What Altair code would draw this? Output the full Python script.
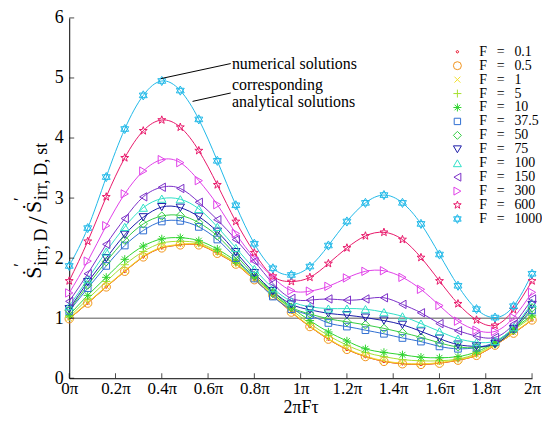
import math
import altair as alt
import pandas as pd

# ---------------- data ----------------
x_pi = [0.00, 0.08, 0.16, 0.24, 0.32, 0.40, 0.48, 0.56, 0.64, 0.72, 0.80, 0.88, 0.96,
        1.04, 1.12, 1.20, 1.28, 1.36, 1.44, 1.52, 1.60, 1.68, 1.76, 1.84, 1.92, 2.00]

F_labels = ["0.1", "0.5", "1", "5", "10", "37.5", "50", "75", "100", "150", "300", "600", "1000"]

F_0_1 = [0.99, 1.25, 1.52, 1.78, 2.02, 2.17, 2.22, 2.22, 2.08, 1.90, 1.64, 1.38, 1.10,
         0.86, 0.65, 0.48, 0.36, 0.28, 0.24, 0.23, 0.25, 0.30, 0.38, 0.55, 0.75, 0.97]
F_0_5 = [0.99, 1.25, 1.52, 1.78, 2.02, 2.17, 2.22, 2.22, 2.08, 1.90, 1.64, 1.38, 1.10,
         0.86, 0.65, 0.48, 0.36, 0.28, 0.24, 0.23, 0.25, 0.30, 0.38, 0.55, 0.75, 0.97]
F_1 = [1.00, 1.26, 1.53, 1.79, 2.03, 2.18, 2.23, 2.23, 2.09, 1.91, 1.65, 1.39, 1.11,
       0.87, 0.66, 0.49, 0.37, 0.29, 0.25, 0.24, 0.26, 0.31, 0.39, 0.56, 0.76, 0.98]
F_5 = [1.02, 1.32, 1.61, 1.89, 2.11, 2.25, 2.28, 2.25, 2.11, 1.92, 1.67, 1.41, 1.14,
       0.91, 0.71, 0.55, 0.43, 0.36, 0.31, 0.29, 0.29, 0.32, 0.41, 0.58, 0.80, 1.02]
F_10 = [1.05, 1.38, 1.68, 1.98, 2.20, 2.32, 2.34, 2.29, 2.15, 1.95, 1.70, 1.44, 1.18,
        0.96, 0.77, 0.62, 0.49, 0.43, 0.39, 0.35, 0.34, 0.36, 0.44, 0.60, 0.82, 1.05]
F_37_5 = [1.12, 1.50, 1.87, 2.21, 2.46, 2.61, 2.62, 2.52, 2.31, 2.00, 1.66, 1.36, 1.15,
          1.05, 0.92, 0.86, 0.80, 0.74, 0.67, 0.61, 0.53, 0.49, 0.51, 0.60, 0.82, 1.13]
F_50 = [1.13, 1.55, 1.94, 2.30, 2.57, 2.70, 2.71, 2.59, 2.37, 2.05, 1.71, 1.41, 1.18,
        1.07, 0.99, 0.94, 0.89, 0.83, 0.76, 0.68, 0.59, 0.52, 0.51, 0.57, 0.80, 1.17]
F_75 = [1.15, 1.60, 2.00, 2.39, 2.68, 2.85, 2.84, 2.69, 2.44, 2.10, 1.75, 1.45, 1.23,
        1.14, 1.08, 1.05, 1.01, 0.96, 0.89, 0.78, 0.66, 0.56, 0.53, 0.57, 0.82, 1.22]
F_100 = [1.20, 1.65, 2.11, 2.52, 2.84, 2.99, 2.98, 2.82, 2.52, 2.17, 1.82, 1.50, 1.28,
         1.19, 1.16, 1.16, 1.15, 1.10, 1.03, 0.91, 0.78, 0.66, 0.60, 0.62, 0.85, 1.25]
F_150 = [1.28, 1.74, 2.23, 2.66, 3.02, 3.18, 3.16, 2.93, 2.64, 2.31, 1.95, 1.58, 1.33,
         1.30, 1.32, 1.30, 1.32, 1.34, 1.23, 1.09, 0.91, 0.79, 0.70, 0.68, 0.90, 1.32]
F_300 = [1.42, 1.95, 2.54, 3.07, 3.45, 3.64, 3.59, 3.29, 2.89, 2.41, 2.00, 1.68, 1.46,
         1.45, 1.53, 1.67, 1.78, 1.79, 1.68, 1.48, 1.21, 0.95, 0.80, 0.78, 1.01, 1.43]
F_600 = [1.62, 2.28, 3.02, 3.67, 4.12, 4.30, 4.18, 3.79, 3.22, 2.61, 2.09, 1.70, 1.61,
         1.68, 1.91, 2.17, 2.37, 2.43, 2.31, 2.01, 1.62, 1.24, 0.97, 0.88, 1.14, 1.62]
F_1000 = [1.87, 2.50, 3.35, 4.15, 4.71, 4.95, 4.79, 4.31, 3.62, 2.88, 2.24, 1.83, 1.72,
          1.86, 2.21, 2.61, 2.92, 3.05, 2.92, 2.57, 2.06, 1.54, 1.15, 1.01, 1.20, 1.74]

series_values = [F_0_1, F_0_5, F_1, F_5, F_10, F_37_5, F_50, F_75, F_100, F_150, F_300, F_600, F_1000]

x_ticks = [0, 0.2, 0.4, 0.6, 0.8, 1.0, 1.2, 1.4, 1.6, 1.8, 2.0]
y_ticks = [0, 1, 2, 3, 4, 5, 6]

# annotation (data coordinates)
ann_line_x = [0.397, 0.698, 0.533, 0.698]
ann_line_y = [4.99, 5.24, 4.61, 4.75]
ann_text = ["numerical solutions", "corresponding", "analytical solutions"]
ann_text_x = [0.703, 0.703, 0.703]
ann_text_y = [5.23, 4.88, 4.60]

# ---------------- styles ----------------
FONT = "Liberation Serif, DejaVu Serif, serif"
colors = ["#e8102a", "#f0921c", "#f2e030", "#a6e030", "#2ed42e", "#2f6fd2", "#34cc44",
          "#1c1ca8", "#30e0c8", "#7b2fc8", "#e040e8", "#e8186a", "#20b8e8"]


def star_path(n=5, r_in=0.4):
    pts = []
    for i in range(2 * n):
        r = 1.0 if i % 2 == 0 else r_in
        a = -math.pi / 2 + i * math.pi / n
        pts.append(f"{r * math.cos(a):.3f},{r * math.sin(a):.3f}")
    return "M" + "L".join(pts) + "Z"


dot = "M0.3,0A0.3,0.3,0,1,1,-0.3,0A0.3,0.3,0,1,1,0.3,0Z"
xmark = "M-0.75,-0.75L0.75,0.75M-0.75,0.75L0.75,-0.75"
plus = "M-1,0L1,0M0,-1L0,1"
aster = "M-1,0L1,0M0,-1L0,1M-0.7,-0.7L0.7,0.7M-0.7,0.7L0.7,-0.7"
square = "M-0.8,-0.8L0.8,-0.8L0.8,0.8L-0.8,0.8Z"
hexagram = "M0,-1.1L0.95,0.55L-0.95,0.55ZM0,1.1L0.95,-0.55L-0.95,-0.55Z"
shapes = [dot, "circle", xmark, plus, aster, square, "diamond", "triangle-down",
          "triangle-up", "triangle-left", "triangle-right", star_path(), hexagram]

names = ["F\u2002\u2009=\u2002\u2009" + f for f in F_labels]

rows = []
for i, (nm, vals) in enumerate(zip(names, series_values)):
    for xv, yv in zip(x_pi, vals):
        rows.append({"series": nm, "order": i, "x": xv, "y": yv})
df = pd.DataFrame(rows)

x_scale = alt.Scale(domain=[0, 2], nice=False)
y_scale = alt.Scale(domain=[0, 6], nice=False)

x_axis = alt.Axis(values=x_ticks, labelExpr="datum.value + 'π'", ticks=False, grid=False,
                  domainColor="black", labelFont=FONT, labelFontSize=17, labelColor="black",
                  labelPadding=2, labelFlush=False, labelOverlap=False,
                  title="2πFτ", titleFont=FONT, titleFontSize=18, titleFontWeight="normal",
                  titleColor="black", titlePadding=2)
y_axis = alt.Axis(values=y_ticks, format="d", ticks=False, grid=False, domainColor="black",
                  labelFont=FONT, labelFontSize=18, labelColor="black", labelPadding=6,
                  labelFlush=False, labelOverlap=False, title=None)

legend = alt.Legend(orient="none", legendX=383, legendY=27, title=None,
                    labelFont=FONT, labelFontSize=14, labelColor="black",
                    symbolSize=64, symbolStrokeWidth=1, rowPadding=-2.45,
                    labelOffset=15, padding=0)
color_scale = alt.Scale(domain=names, range=colors)
shape_scale = alt.Scale(domain=names, range=shapes)

base = alt.Chart(df)

lines = base.mark_line(strokeWidth=1, interpolate="natural").encode(
    x=alt.X("x:Q", scale=x_scale, axis=x_axis),
    y=alt.Y("y:Q", scale=y_scale, axis=y_axis),
    color=alt.Color("series:N", sort=names, scale=color_scale, legend=legend),
    detail="series:N",
    order="order:Q",
)

points = base.mark_point(filled=False, size=70, strokeWidth=1, opacity=1).encode(
    x=alt.X("x:Q", scale=x_scale, axis=x_axis),
    y=alt.Y("y:Q", scale=y_scale, axis=y_axis),
    color=alt.Color("series:N", sort=names, scale=color_scale, legend=legend),
    shape=alt.Shape("series:N", sort=names, scale=shape_scale, legend=legend),
    order="order:Q",
)

one = pd.DataFrame({"a": [0]})

hline = alt.Chart(one).mark_rule(color="#555555", strokeWidth=1).encode(
    x=alt.datum(0), x2=alt.datum(2), y=alt.datum(1))

xt = alt.Chart(pd.DataFrame({"x": x_ticks})).mark_tick(
    orient="vertical", size=5, thickness=1, color="black", yOffset=-2.5).encode(
    x=alt.X("x:Q", scale=x_scale, axis=x_axis), y=alt.datum(0))
yt = alt.Chart(pd.DataFrame({"y": y_ticks})).mark_tick(
    orient="horizontal", size=5, thickness=1, color="black", xOffset=2.5).encode(
    y=alt.Y("y:Q", scale=y_scale, axis=y_axis), x=alt.datum(0))

ann_layers = []
for j in range(2):
    ann_layers.append(alt.Chart(one).mark_rule(color="black", strokeWidth=1).encode(
        x=alt.datum(ann_line_x[2 * j]), y=alt.datum(ann_line_y[2 * j]),
        x2=alt.datum(ann_line_x[2 * j + 1]), y2=alt.datum(ann_line_y[2 * j + 1])))
for t, tx, ty in zip(ann_text, ann_text_x, ann_text_y):
    ann_layers.append(alt.Chart(one).mark_text(
        text=t, font=FONT, fontSize=16, color="black", align="left", baseline="middle").encode(
        x=alt.datum(tx), y=alt.datum(ty)))


# y-axis title built from pieces (rotated), with subscripts
def rtext(txt, px, py, size):
    return alt.Chart(one).mark_text(text=txt, font=FONT, fontSize=size, color="black",
                                    angle=270, align="left", baseline="alphabetic").encode(
        x=alt.value(px), y=alt.value(py))


title_parts = [
    rtext("Ṡ", -28, 262, 22),
    rtext("′", -44, 250, 17),
    rtext("irr,\u2009D", -22.5, 249, 18),
    rtext("/", -22, 207, 28),
    rtext("Ṡ", -28, 196, 22),
    rtext("′", -44, 184, 17),
    rtext("irr,\u2009D,\u2009st", -22.5, 183, 18),
]

chart = alt.layer(hline, lines, points, xt, yt, *ann_layers, *title_parts).properties(
    width=465, height=362,
    autosize="none",
    padding={"left": 61.5, "top": 9, "right": 10, "bottom": 40},
).configure_view(stroke=None).configure_axis(
    domainWidth=1, labelFont=FONT, titleFont=FONT
).configure_legend(labelFont=FONT, labelFontSize=14, rowPadding=-2.45)

chart.save("out.html", embed_options={"renderer": "svg", "actions": False})
